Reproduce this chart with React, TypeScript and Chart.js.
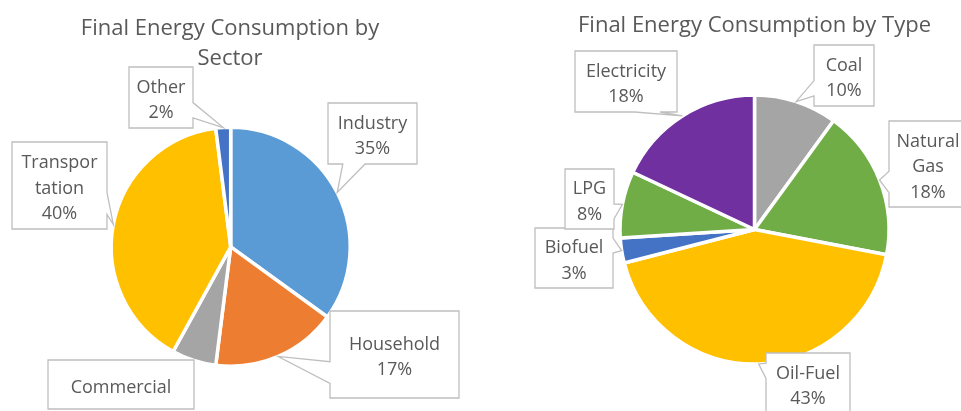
import React, { useEffect, useRef } from "react";
import { Chart, registerables } from "chart.js";
Chart.register(...registerables);

// ---- data ----
const sectorTitle = ["Final Energy Consumption by", "Sector"];
const sectorCategories = ["Industry", "Household", "Commercial", "Transportation", "Other"];
const sectorValues = [35, 17, 6, 40, 2];
const sectorColors = ["#5B9BD5", "#ED7D31", "#A5A5A5", "#FFC000", "#4472C4"];

const typeTitle = ["Final Energy Consumption by Type"];
const typeCategories = ["Coal", "Natural Gas", "Oil-Fuel", "Biofuel", "LPG", "Electricity"];
const typeValues = [10, 18, 43, 3, 8, 18];
const typeColors = ["#A5A5A5", "#70AD47", "#FFC000", "#4472C4", "#70AD47", "#7030A0"];

// ---- label box layout (canvas-local pixels) ----
type Box = { x: number; y: number; w: number; h: number; lines?: string[]; pct?: boolean; wedge?: boolean };

const sectorBoxes: Box[] = [
  { x: 328, y: 103, w: 89, h: 61 },
  { x: 330, y: 311, w: 129, h: 87 },
  { x: 48, y: 360, w: 146, h: 49, pct: false, wedge: false },
  { x: 12, y: 142, w: 95, h: 87, lines: ["Transpor", "tation"] },
  { x: 129, y: 67, w: 64, h: 61 },
];

const typeBoxes: Box[] = [
  { x: 334, y: 45, w: 60, h: 61 },
  { x: 409, y: 121, w: 78, h: 86, lines: ["Natural", "Gas"] },
  { x: 286, y: 353, w: 84, h: 61 },
  { x: 55, y: 228, w: 78, h: 60 },
  { x: 85, y: 169, w: 49, h: 60 },
  { x: 95, y: 51, w: 102, h: 61 },
];

const TEXT_COLOR = "#595959";
const BOX_BORDER = "#BFBFBF";
const FONT_FAMILY = '"Open Sans", "Noto Sans", sans-serif';

function calloutPath(ctx: CanvasRenderingContext2D, l: number, t: number, w: number, h: number, tx: number, ty: number, wedge: boolean) {
  const r = l + w, b = t + h;
  const hc = l + w / 2, vc = t + h / 2;
  const inside = tx >= l && tx <= r && ty >= t && ty <= b;
  const useWedge = wedge && !inside;
  const dxPos = tx - hc, dyPos = ty - vc;
  const dq = (dxPos * h) / w;
  const dz = Math.abs(dyPos) - Math.abs(dq);
  const xg1 = dxPos > 0 ? 7 : 2, xg2 = dxPos > 0 ? 10 : 5;
  const yg1 = dyPos > 0 ? 7 : 2, yg2 = dyPos > 0 ? 10 : 5;
  const x1 = l + (w * xg1) / 12, x2 = l + (w * xg2) / 12;
  const y1 = t + (h * yg1) / 12, y2 = t + (h * yg2) / 12;
  ctx.beginPath();
  ctx.moveTo(l, t);
  if (useWedge && dz > 0 && dyPos < 0) { ctx.lineTo(x1, t); ctx.lineTo(tx, ty); ctx.lineTo(x2, t); }
  ctx.lineTo(r, t);
  if (useWedge && dz <= 0 && dxPos > 0) { ctx.lineTo(r, y1); ctx.lineTo(tx, ty); ctx.lineTo(r, y2); }
  ctx.lineTo(r, b);
  if (useWedge && dz > 0 && dyPos > 0) { ctx.lineTo(x2, b); ctx.lineTo(tx, ty); ctx.lineTo(x1, b); }
  ctx.lineTo(l, b);
  if (useWedge && dz <= 0 && dxPos < 0) { ctx.lineTo(l, y2); ctx.lineTo(tx, ty); ctx.lineTo(l, y1); }
  ctx.closePath();
}

const calloutPlugin = {
  id: "callouts",
  afterDatasetsDraw(chart: any, _args: any, opts: any) {
    const ctx: CanvasRenderingContext2D = chart.ctx;
    const meta = chart.getDatasetMeta(0);
    const values = chart.data.datasets[0].data as number[];
    const total = values.reduce((a, c) => a + c, 0);
    const labels = chart.data.labels as string[];
    const boxes: Box[] = opts.boxes || [];
    ctx.save();
    // titles
    ctx.fillStyle = TEXT_COLOR;
    ctx.font = `22px ${FONT_FAMILY}`;
    ctx.textAlign = "center";
    ctx.textBaseline = "alphabetic";
    (opts.title || []).forEach((line: string, i: number) => {
      ctx.fillText(line, opts.titleX, opts.titleBaselines[i]);
    });
    // callouts
    meta.data.forEach((arc: any, i: number) => {
      const bx = boxes[i];
      if (!bx) return;
      const p = arc.getProps(["x", "y", "startAngle", "endAngle", "outerRadius"], true);
      const mid = (p.startAngle + p.endAngle) / 2;
      const tx = p.x + Math.cos(mid) * p.outerRadius;
      const ty = p.y + Math.sin(mid) * p.outerRadius;
      calloutPath(ctx, bx.x, bx.y, bx.w, bx.h, tx, ty, bx.wedge !== false);
      ctx.fillStyle = "#FFFFFF";
      ctx.fill();
      ctx.strokeStyle = BOX_BORDER;
      ctx.lineWidth = 1.3;
      ctx.lineJoin = "miter";
      ctx.stroke();
      const lines = [...(bx.lines || [labels[i]])];
      if (bx.pct !== false) lines.push(Math.round((values[i] / total) * 100) + "%");
      ctx.fillStyle = TEXT_COLOR;
      ctx.font = `18px ${FONT_FAMILY}`;
      ctx.textAlign = "center";
      ctx.textBaseline = "alphabetic";
      const cx = bx.x + bx.w / 2;
      const cy = bx.y + bx.h / 2 + 8;
      const lh = 25.5;
      lines.forEach((ln, k) => {
        ctx.fillText(ln, cx, cy + (k - (lines.length - 1) / 2) * lh);
      });
    });
    ctx.restore();
  },
};

function makePie(
  canvas: HTMLCanvasElement,
  labels: string[],
  values: number[],
  colors: string[],
  radius: number,
  padding: any,
  boxes: Box[],
  title: string[],
  titleX: number,
  titleBaselines: number[]
) {
  return new Chart(canvas, {
    type: "pie",
    data: {
      labels,
      datasets: [
        {
          data: values,
          backgroundColor: colors,
          borderColor: "#FFFFFF",
          borderWidth: 3.5,
        },
      ],
    },
    options: {
      responsive: false,
      animation: false,
      events: [],
      radius,
      layout: { padding },
      plugins: {
        legend: { display: false },
        tooltip: { enabled: false },
        title: { display: false },
        callouts: { boxes, title, titleX, titleBaselines },
      } as any,
    },
    plugins: [calloutPlugin],
  });
}

export default function App() {
  const leftRef = useRef<HTMLCanvasElement>(null);
  const rightRef = useRef<HTMLCanvasElement>(null);

  useEffect(() => {
    let left: Chart | null = null;
    let right: Chart | null = null;
    let cancelled = false;
    const build = () => {
      if (cancelled) return;
      left?.destroy();
      right?.destroy();
      left = makePie(leftRef.current!, sectorCategories, sectorValues, sectorColors, 119.5,
        { left: 0, right: 18.6, top: 82.6, bottom: 0 }, sectorBoxes, sectorTitle, 230, [35, 65]);
      right = makePie(rightRef.current!, typeCategories, typeValues, typeColors, 134.5,
        { left: 68, right: 0, top: 48, bottom: 0 }, typeBoxes, typeTitle, 274.5, [32]);
    };
    build();
    if ((document as any).fonts?.load) {
      Promise.all([
        (document as any).fonts.load(`18px "Open Sans"`),
        (document as any).fonts.load(`22px "Open Sans"`),
      ]).then(build).catch(() => {});
    }
    return () => {
      cancelled = true;
      left?.destroy();
      right?.destroy();
    };
  }, []);

  return (
    <div style={{ position: "fixed", left: 0, top: 0, width: 961, height: 411, background: "#FFFFFF", overflow: "hidden" }}>
      <canvas ref={leftRef} width={480} height={411} style={{ position: "absolute", left: 0, top: 0 }} />
      <canvas ref={rightRef} width={481} height={411} style={{ position: "absolute", left: 480, top: 0 }} />
    </div>
  );
}
